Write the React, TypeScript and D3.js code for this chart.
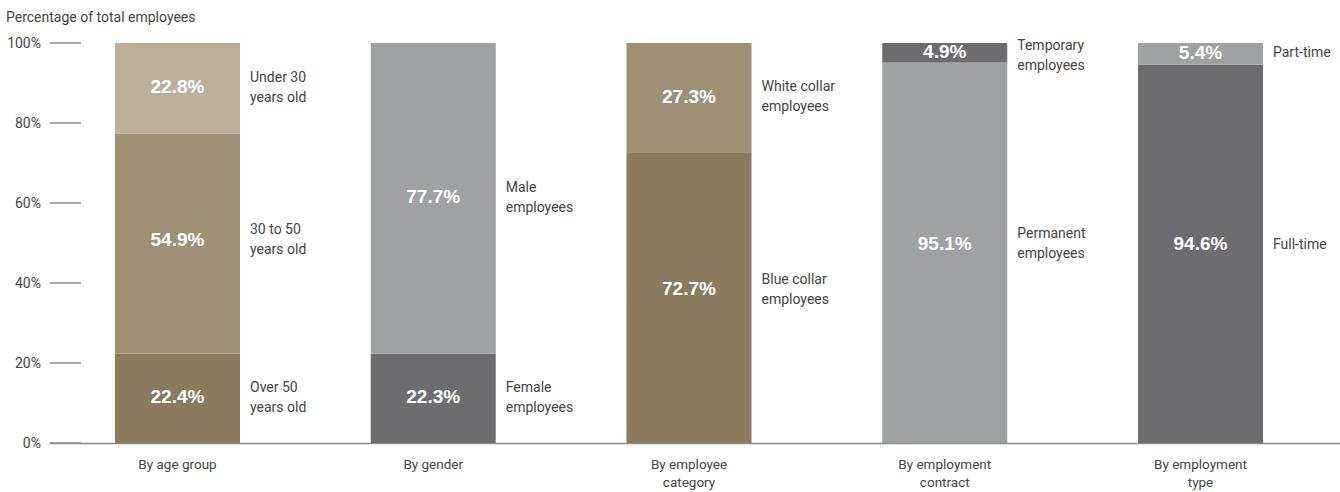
import React from "react";
import * as d3 from "d3";

const categories = ["By age group", "By gender", "By employee category", "By employment contract", "By employment type"];
const categoryLines = [["By age group"], ["By gender"], ["By employee", "category"], ["By employment", "contract"], ["By employment", "type"]];
// segments bottom to top
const segValues = [
  [22.4, 54.9, 22.8],
  [22.3, 77.7],
  [72.7, 27.3],
  [95.1, 4.9],
  [94.6, 5.4],
];
const segLabels = [
  [["Over 50", "years old"], ["30 to 50", "years old"], ["Under 30", "years old"]],
  [["Female", "employees"], ["Male", "employees"]],
  [["Blue collar", "employees"], ["White collar", "employees"]],
  [["Permanent", "employees"], ["Temporary", "employees"]],
  [["Full-time"], ["Part-time"]],
];
const segColors = [
  ["#8a7b5e", "#9e9074", "#bcb09d"],
  ["#6d6d6f", "#a0a1a3"],
  ["#8a7b5e", "#9e9074"],
  ["#a0a1a3", "#6d6d6f"],
  ["#6d6d6f", "#a0a1a3"],
];
const yTicks = [0, 20, 40, 60, 80, 100];
// layout: label anchor (in % units) where the reference does not use the segment centre
const labelAnchorOverride: (number | null)[][] = [
  [null, 50.6, null],
  [null, null],
  [38.2, null],
  [49.6, null],
  [49.4, null],
];

const FONT = "'Liberation Sans Narrow', 'Roboto', 'Liberation Sans', sans-serif";

export default function App() {
  const W = 1340, H = 492;
  const y = d3.scaleLinear().domain([0, 100]).range([443, 43]);
  const x = d3.scalePoint().domain(categories).range([177.5, 1200.5]);
  const bw = 125;
  return (
    <svg width={W} height={H} style={{ position: "absolute", left: 0, top: 0 }} fontFamily={FONT}>
      <text x={6} y={22} fontSize={14} fill="#444">Percentage of total employees</text>
      {yTicks.map((t) => (
        <g key={t}>
          <text x={41} y={y(t) + 5} textAnchor="end" fontSize={14} fill="#444">{t}%</text>
          <line x1={50} x2={81} y1={y(t)} y2={y(t)} stroke="#555" strokeWidth={1} />
        </g>
      ))}
      <line x1={50} x2={1340} y1={443.5} y2={443.5} stroke="#8a8a8a" strokeWidth={1.5} />
      {categories.map((c, i) => {
        const cx = x(c) as number;
        const x0 = cx - bw / 2;
        let acc = 0;
        return (
          <g key={c}>
            {segValues[i].map((v, j) => {
              const y0 = y(acc);
              acc += v;
              const y1 = y(Math.min(acc, 100));
              const ov = labelAnchorOverride[i][j];
              const mid = (ov != null ? y(ov) : (y0 + y1) / 2) - 1.5;
              const lines = segLabels[i][j];
              const lh = 20;
              let lmid = mid;
              if (lines.length > 1) lmid = Math.max(mid, y(100) + 12);
              return (
                <g key={j}>
                  <rect x={x0} y={y1} width={bw} height={y0 - y1} fill={segColors[i][j]} />
                  <text x={cx} y={mid + 6.5} textAnchor="middle" fontSize={19} fontWeight="bold" fill="#fff" fontFamily="'Liberation Sans', Arial, sans-serif">{v.toFixed(1)}%</text>
                  {lines.map((ln, k) => (
                    <text key={k} x={x0 + bw + 10} y={lmid - ((lines.length - 1) * lh) / 2 + k * lh + 5} fontSize={14} fill="#444">{ln}</text>
                  ))}
                </g>
              );
            })}
            {categoryLines[i].map((ln, k) => (
              <text key={k} x={cx} y={469 + k * 18} textAnchor="middle" fontSize={13.5} fill="#444">{ln}</text>
            ))}
          </g>
        );
      })}
    </svg>
  );
}
